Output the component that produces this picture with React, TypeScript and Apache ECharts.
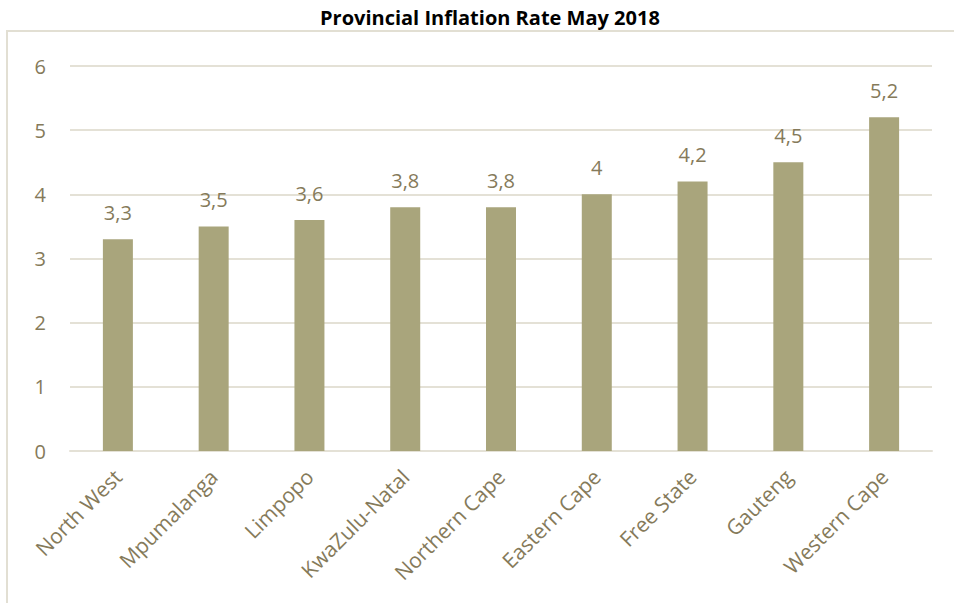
import React, { useEffect, useRef } from "react";
import * as echarts from "echarts";

const categories = [
  "North West",
  "Mpumalanga",
  "Limpopo",
  "KwaZulu-Natal",
  "Northern Cape",
  "Eastern Cape",
  "Free State",
  "Gauteng",
  "Western Cape",
];
const inflation = [3.3, 3.5, 3.6, 3.8, 3.8, 4, 4.2, 4.5, 5.2];
const chartTitle = "Provincial Inflation Rate May 2018";

const textColor = "#857a5a";
const barColor = "#a9a57c";
const gridColor = "#e4e1d6";

export default function App() {
  const ref = useRef<HTMLDivElement>(null);
  useEffect(() => {
    if (!ref.current) return;
    const chart = echarts.init(ref.current, undefined, { renderer: "svg" });
    chart.setOption({
      animation: false,
      backgroundColor: "#ffffff",
      title: {
        text: chartTitle,
        left: 315,
        top: 2,
        textStyle: {
          fontFamily: "Open Sans",
          fontWeight: "bold",
          fontSize: 20,
          color: "#000000",
        },
      },
      graphic: [
        {
          type: "rect",
          shape: { x: 7, y: 31, width: 960, height: 600 },
          style: { fill: "none", stroke: "#e2dfd3", lineWidth: 2 },
          silent: true,
        },
      ],
      grid: { left: 70, right: 22, top: 66, bottom: 152 },
      xAxis: {
        type: "category",
        data: categories,
        axisLine: { lineStyle: { color: gridColor, width: 2 } },
        axisTick: { show: false },
        axisLabel: {
          rotate: 45,
          interval: 0,
          margin: 22,
          fontFamily: "Open Sans",
          fontSize: 21,
          color: textColor,
        },
      },
      yAxis: {
        type: "value",
        min: 0,
        max: 6,
        interval: 1,
        axisLine: { show: false },
        axisTick: { show: false },
        splitLine: { lineStyle: { color: gridColor, width: 2 } },
        axisLabel: {
          margin: 24,
          fontFamily: "Open Sans",
          fontSize: 20,
          color: textColor,
        },
      },
      series: [
        {
          type: "bar",
          data: inflation,
          barWidth: 30,
          itemStyle: { color: barColor },
          label: {
            show: true,
            position: "top",
            distance: 17,
            fontFamily: "Open Sans",
            fontSize: 20,
            color: textColor,
            formatter: (p: any) => String(p.value).replace(".", ","),
          },
        },
      ],
    });
    return () => chart.dispose();
  }, []);
  return (
    <div
      ref={ref}
      style={{ position: "fixed", left: 0, top: 0, width: 954, height: 603 }}
    />
  );
}
